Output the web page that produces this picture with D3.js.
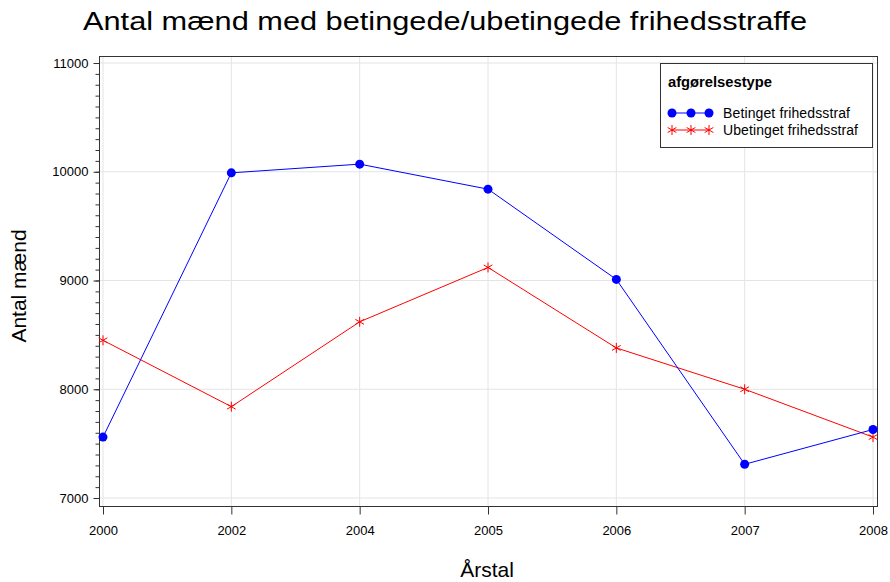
<!DOCTYPE html>
<html>
<head>
<meta charset="utf-8">
<script src="https://d3js.org/d3.v7.min.js"></script>
<style>
  body { margin: 0; background: #fff; }
  svg { font-family: "Liberation Sans", Arial, sans-serif; }
</style>
</head>
<body>
<svg width="890" height="582"></svg>
<script>
// data
const years = ["2000", "2002", "2004", "2005", "2006", "2007", "2008"];
const betinget = [7560, 9990, 10070, 9840, 9010, 7310, 7630];
const ubetinget = [8450, 7840, 8620, 9120, 8380, 8000, 7560];
const yTicks = [7000, 8000, 9000, 10000, 11000];
const seriesNames = ["Betinget frihedsstraf", "Ubetinget frihedsstraf"];

const svg = d3.select("svg");

// plot frame
const frame = { left: 99, right: 877, top: 56, bottom: 506 };

const x = d3.scalePoint().domain(years).range([103, 873]);
const y = d3.scaleLinear().domain([7000, 11000]).range([498, 63]);

// gridlines
svg.append("g").selectAll("line.gy")
    .data(yTicks).enter().append("line")
    .attr("x1", frame.left).attr("x2", frame.right)
    .attr("y1", d => y(d)).attr("y2", d => y(d))
    .attr("stroke", "#e4e4e4").attr("stroke-width", 1);
svg.append("g").selectAll("line.gx")
    .data(years).enter().append("line")
    .attr("x1", d => x(d)).attr("x2", d => x(d))
    .attr("y1", frame.top).attr("y2", frame.bottom)
    .attr("stroke", "#e4e4e4").attr("stroke-width", 1);

// frame
svg.append("rect")
    .attr("x", frame.left + 0.5).attr("y", frame.top + 0.5)
    .attr("width", frame.right - frame.left).attr("height", frame.bottom - frame.top)
    .attr("fill", "none").attr("stroke", "#333").attr("stroke-width", 1);

// y axis with minor ticks
const yAxis = svg.append("g").attr("transform", `translate(${frame.left + 0.5},0)`);
yAxis.call(d3.axisLeft(y).tickValues(d3.range(7000, 11001, 100)).tickSize(4).tickFormat(""))
    .call(g => g.select(".domain").remove())
    .call(g => g.selectAll("line").attr("stroke", "#333"));
const yMajor = svg.append("g").attr("transform", `translate(${frame.left + 0.5},0)`);
yMajor.call(d3.axisLeft(y).tickValues(yTicks).tickSize(6).tickPadding(5).tickFormat(d3.format("d")))
    .call(g => g.select(".domain").remove())
    .call(g => g.selectAll("line").attr("stroke", "#333"))
    .call(g => g.selectAll("text").attr("font-size", 13).attr("fill", "#000")
        .attr("font-family", "'Liberation Sans', Arial, sans-serif"));

// x axis
const xAxis = svg.append("g").attr("transform", `translate(0,${frame.bottom + 0.5})`);
xAxis.call(d3.axisBottom(x).tickSize(8).tickPadding(11))
    .call(g => g.select(".domain").remove())
    .call(g => g.selectAll("line").attr("stroke", "#333"))
    .call(g => g.selectAll("text").attr("font-size", 13).attr("fill", "#000")
        .attr("font-family", "'Liberation Sans', Arial, sans-serif"));

// lines
const line = d3.line().x((d, i) => x(years[i])).y(d => y(d));
svg.append("path").datum(ubetinget)
    .attr("d", line).attr("fill", "none").attr("stroke", "#ff0000").attr("stroke-width", 1);
svg.append("path").datum(betinget)
    .attr("d", line).attr("fill", "none").attr("stroke", "#0000ff").attr("stroke-width", 1);

// markers
function star(g, cx, cy, r) {
  const angles = [90, 30, -30];
  angles.forEach(a => {
    const rad = a * Math.PI / 180;
    g.append("line")
      .attr("x1", cx - r * Math.cos(rad)).attr("y1", cy - r * Math.sin(rad))
      .attr("x2", cx + r * Math.cos(rad)).attr("y2", cy + r * Math.sin(rad))
      .attr("stroke", "#ff0000").attr("stroke-width", 1);
  });
}
const stars = svg.append("g");
ubetinget.forEach((v, i) => star(stars, x(years[i]), y(v), 5));
svg.append("g").selectAll("circle")
    .data(betinget).enter().append("circle")
    .attr("cx", (d, i) => x(years[i])).attr("cy", d => y(d))
    .attr("r", 4.5).attr("fill", "#0000ff");

// title
svg.append("text")
    .attr("x", 445).attr("y", 30).attr("text-anchor", "middle")
    .attr("font-size", 25).attr("textLength", 724).attr("lengthAdjust", "spacingAndGlyphs")
    .text("Antal mænd med betingede/ubetingede frihedsstraffe");

// axis labels
svg.append("text")
    .attr("x", 487).attr("y", 577).attr("text-anchor", "middle")
    .attr("font-size", 21)
    .text("Årstal");
svg.append("text")
    .attr("transform", "translate(26,286) rotate(-90)")
    .attr("text-anchor", "middle").attr("font-size", 21)
    .text("Antal mænd");

// legend
const lg = svg.append("g");
lg.append("rect").attr("x", 660.5).attr("y", 63.5).attr("width", 212).attr("height", 84)
    .attr("fill", "#fff").attr("stroke", "#333").attr("stroke-width", 1);
lg.append("text").attr("x", 668).attr("y", 87).attr("font-size", 14).attr("font-weight", "bold")
    .attr("textLength", 104).attr("lengthAdjust", "spacingAndGlyphs")
    .text("afgørelsestype");
const legY = [113, 130];
const legX = [672, 691, 709];
const legW = [127, 135];
lg.append("line").attr("x1", 672).attr("x2", 709).attr("y1", legY[0]).attr("y2", legY[0])
    .attr("stroke", "#0000ff");
legX.forEach(px => lg.append("circle").attr("cx", px).attr("cy", legY[0]).attr("r", 4.5).attr("fill", "#0000ff"));
lg.append("line").attr("x1", 672).attr("x2", 709).attr("y1", legY[1]).attr("y2", legY[1])
    .attr("stroke", "#ff0000");
legX.forEach(px => star(lg, px, legY[1], 5));
seriesNames.forEach((n, i) => {
  lg.append("text").attr("x", 723).attr("y", legY[i] + 5).attr("font-size", 14)
    .attr("textLength", legW[i]).attr("lengthAdjust", "spacing").text(n);
});
</script>
</body>
</html>
